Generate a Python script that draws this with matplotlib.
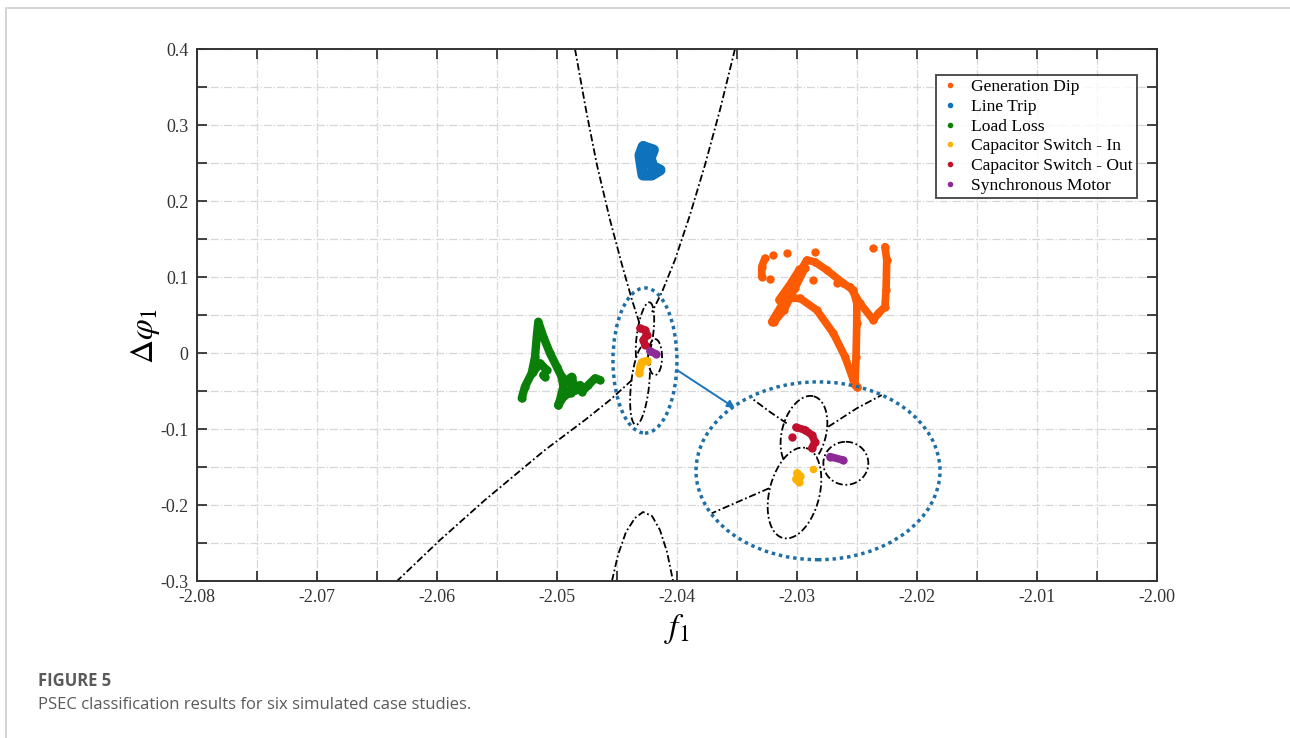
import numpy as np
import matplotlib
matplotlib.use("Agg")
import matplotlib.pyplot as plt
from matplotlib.lines import Line2D
from matplotlib.patches import Ellipse

plt.rcParams['mathtext.fontset'] = 'stix'

# ---------------- data ----------------
labels = ["Generation Dip", "Line Trip", "Load Loss",
          "Capacitor Switch - In", "Capacitor Switch - Out", "Synchronous Motor"]
colors = ["#fc5a03", "#0f72bd", "#0a800a", "#fdb100", "#c0102e", "#8e2a96"]

# Generation Dip trajectories
gen_a_x = [-2.03211, -2.03142, -2.03058, -2.02975, -2.02919, -2.02850, -2.02752, -2.02614,
           -2.02531, -2.02502, -2.02502, -2.02508, -2.02517, -2.02502]
gen_a_y = [0.0412, 0.0592, 0.0829, 0.1066, 0.1224, 0.1197, 0.1092, 0.0917,
           0.0829, 0.0654, 0.0391, -0.0049, -0.0421, -0.0443]
gen_a2_x = [-2.03192, -2.03108, -2.03017, -2.02933]
gen_a2_y = [0.0408, 0.0566, 0.0855, 0.1118]
gen_a3_x = [-2.03150, -2.03060, -2.02980]
gen_a3_y = [0.0700, 0.0900, 0.1100]
gen_b_x = [-2.03086, -2.02975, -2.02836, -2.02697, -2.02600, -2.02531, -2.02502]
gen_b_y = [0.0720, 0.0720, 0.0566, 0.0259, -0.0049, -0.0355, -0.0443]
gen_c_x = [-2.02558, -2.02475, -2.02364, -2.02322, -2.02267, -2.02258, -2.02252, -2.02267]
gen_c_y = [0.0872, 0.0654, 0.0434, 0.0522, 0.0609, 0.0829, 0.1224, 0.1399]
gen_arc_x = [-2.03294, -2.03294, -2.03267]
gen_arc_y = [0.1004, 0.1136, 0.1246]
gen_dots_x = [-2.03197, -2.03086, -2.02850, -2.03225, -2.02864, -2.02669, -2.02364]
gen_dots_y = [0.1289, 0.1312, 0.1333, 0.0970, 0.0961, 0.0917, 0.1378]

# Line Trip
trip_x = [-2.04281, -2.04197, -2.04225, -2.04200, -2.04142, -2.04211, -2.04283, -2.04294, -2.04308, -2.04281]
trip_y = [0.2714, 0.2671, 0.2566, 0.2451, 0.2408, 0.2342, 0.2342, 0.2451, 0.2605, 0.2714]

# Load Loss
load_x = [-2.05294, -2.05267, -2.05211, -2.05183, -2.05169, -2.05156, -2.05114, -2.05058,
          -2.05002, -2.04961, -2.04947, -2.04975, -2.04989]
load_y = [-0.0596, -0.0443, -0.0267, -0.0049, 0.0214, 0.0412, 0.0214, -0.0004,
          -0.0180, -0.0312, -0.0443, -0.0618, -0.0684]
load_sq_x = [-2.04961, -2.04933, -2.04877, -2.04864, -2.04892, -2.04850, -2.04808, -2.04794,
             -2.04739, -2.04683, -2.04642]
load_sq_y = [-0.0312, -0.0378, -0.0312, -0.0399, -0.0509, -0.0487, -0.0421, -0.0509,
             -0.0421, -0.0333, -0.0355]
load_bar_x = [-2.05197, -2.05142, -2.05086]
load_bar_y = [-0.0246, -0.0136, -0.0224]
load_dot_x = [-2.05114, -2.05100]
load_dot_y = [-0.0289, -0.0316]
load_loop_x = [-2.04989, -2.04940, -2.04880, -2.04850]
load_loop_y = [-0.0684, -0.0560, -0.0520, -0.0487]

# Capacitor Switch - In
capin_x = [-2.04252, -2.04294, -2.04308, -2.04314]
capin_y = [-0.0101, -0.0118, -0.0180, -0.0267]
capin_zoom_x = [-2.03000, -2.02975, -2.03008, -2.02983]
capin_zoom_y = [-0.1579, -0.1618, -0.1658, -0.1697]
capin_zoom_dot_x = [-2.02864]
capin_zoom_dot_y = [-0.1530]

# Capacitor Switch - Out
capout_x = [-2.04308, -2.04267, -2.04252, -2.04281, -2.04267]
capout_y = [0.0325, 0.0303, 0.0237, 0.0171, 0.0105]
capout_zoom_x = [-2.03008, -2.02933, -2.02877, -2.02850, -2.02877]
capout_zoom_y = [-0.0978, -0.1013, -0.1079, -0.1167, -0.1254]
capout_zoom_dot_x = [-2.03044]
capout_zoom_dot_y = [-0.1101]

# Synchronous Motor
motor_x = [-2.04225, -2.04175]
motor_y = [0.0026, -0.0013]
motor_zoom_x = [-2.02725, -2.02619]
motor_zoom_y = [-0.1364, -0.1408]

# Decision boundary curves
bndA_x = [-2.04850, -2.04758, -2.04667, -2.04558, -2.04458, -2.04375, -2.04308]
bndA_y = [0.4000, 0.3197, 0.2474, 0.1750, 0.1158, 0.0697, 0.0368]
bndB_x = [-2.03517, -2.03642, -2.03767, -2.03892, -2.04017, -2.04125, -2.04208]
bndB_y = [0.4000, 0.3197, 0.2474, 0.1816, 0.1224, 0.0803, 0.0539]
bndC_x = [-2.04375, -2.04558, -2.04767, -2.05100, -2.05600, -2.05975, -2.06333]
bndC_y = [-0.0355, -0.0618, -0.0882, -0.1276, -0.1934, -0.2461, -0.3000]
bndD_x = [-2.04542, -2.04492, -2.04425, -2.04350, -2.04283, -2.04208, -2.04142, -2.04083, -2.04033]
bndD_y = [-0.3000, -0.2658, -0.2355, -0.2171, -0.2092, -0.2145, -0.2329, -0.2618, -0.3000]
# inset boundary lines
zl1_x = [-2.03086, -2.03225, -2.03378]
zl1_y = [-0.0925, -0.0776, -0.0596]
zl2_x = [-2.02739, -2.02502, -2.02294]
zl2_y = [-0.0970, -0.0728, -0.0553]
zl3_x = [-2.03233, -2.03711]
zl3_y = [-0.1780, -0.2109]

# class-region ellipses: centre, semi-axis vector u, semi-axis vector v (data units)
small_top = ((-2.04267, 0.0237), (0.000383, 0.0430), (0.000667, -0.00145))
small_low = ((-2.04308, -0.0421), (0.000350, 0.0524), (0.000750, -0.00124))
small_rgt = ((-2.04183, -0.0053), (0.0, 0.0237), (0.000583, 0.0))
zoom_top = ((-2.02942, -0.1053), (0.000819, 0.0483), (0.00177, -0.00749))
zoom_low = ((-2.03021, -0.1842), (0.000955, 0.0592), (0.00202, -0.00812))
zoom_rgt = ((-2.02593, -0.1451), (0.0, 0.0283), (0.001875, 0.0))

# highlight ellipses (centre, width, height)
hl_small = ((-2.04267, -0.0099), 0.00533, 0.191)
hl_big = ((-2.02825, -0.1550), 0.02033, 0.234)
arrow_from = (-2.04000, -0.0224)
arrow_to = (-2.03517, -0.0724)

xticks = np.round(np.arange(-2.08, -1.9999, 0.005), 3)
yticks = np.round(np.arange(-0.30, 0.4001, 0.05), 2)


def fmt_x(v):
    return ("%.2f" % v) if abs(round(v * 100) - v * 100) < 1e-6 else ""


def fmt_y(v):
    v = round(v, 2) + 0.0
    if abs(round(v * 10) - v * 10) > 1e-6:
        return ""
    return "0" if abs(v) < 1e-9 else "%g" % v


# ---------------- figure ----------------
fig = plt.figure(figsize=(12.9, 7.38), dpi=100)
ax = fig.add_axes([197/1290, 1-581/738, 960/1290, 532/738])

ax.set_xlim(-2.08, -2.00)
ax.set_ylim(-0.3, 0.4)
ax.set_xticks(xticks)
ax.set_yticks(yticks)
ax.set_xticklabels([fmt_x(v) for v in xticks])
ax.set_yticklabels([fmt_y(v) for v in yticks])
ax.tick_params(direction='in', top=True, right=True, length=7, width=1.3,
               labelsize=13, colors='#333333', pad=6)
for lab in ax.get_xticklabels() + ax.get_yticklabels():
    lab.set_family('Liberation Serif')
for s in ax.spines.values():
    s.set_linewidth(1.4)
    s.set_color('#333333')
ax.grid(True, color='#d6d6d6', linestyle='-.', linewidth=0.9)
ax.set_axisbelow(True)

bstyle = dict(color='black', lw=1.3, dashes=(4, 1.5, 1, 1.5), zorder=2)
for bx, by in [(bndA_x, bndA_y), (bndB_x, bndB_y), (bndC_x, bndC_y), (bndD_x, bndD_y),
               (zl1_x, zl1_y), (zl2_x, zl2_y), (zl3_x, zl3_y)]:
    ax.plot(bx, by, **bstyle)


def ell_pts(spec, n=240):
    c, u, v = spec
    t = np.linspace(0, 2*np.pi, n)
    return (c[0] + u[0]*np.cos(t) + v[0]*np.sin(t),
            c[1] + u[1]*np.cos(t) + v[1]*np.sin(t))


def inside(x, y, spec):
    c, u, v = spec
    M = np.array([[u[0], v[0]], [u[1], v[1]]])
    ab = np.linalg.solve(M, np.vstack([x - c[0], y - c[1]]))
    return (ab**2).sum(0) < 1


for top, low, rgt in [(small_top, small_low, small_rgt), (zoom_top, zoom_low, zoom_rgt)]:
    x, y = ell_pts(top)
    m = inside(x, y, low)
    x = np.where(m, np.nan, x)
    ax.plot(x, y, **bstyle)
    for spec in (low, rgt):
        x, y = ell_pts(spec)
        ax.plot(x, y, **bstyle)

tstyle = dict(lw=5.5, solid_capstyle='round', solid_joinstyle='round',
              marker='o', ms=6, mew=0, zorder=4)
c_gen, c_trip, c_load, c_in, c_out, c_mot = colors
for xs, ys in [(gen_a_x, gen_a_y), (gen_a2_x, gen_a2_y), (gen_a3_x, gen_a3_y),
               (gen_b_x, gen_b_y), (gen_c_x, gen_c_y), (gen_arc_x, gen_arc_y)]:
    ax.plot(xs, ys, color=c_gen, **tstyle)
ax.plot(gen_dots_x, gen_dots_y, ls='', marker='o', ms=6, mew=0, color=c_gen, zorder=4)
ax.plot(trip_x, trip_y, color=c_trip, **dict(tstyle, lw=8))
for xs, ys in [(load_x, load_y), (load_sq_x, load_sq_y), (load_bar_x, load_bar_y),
               (load_dot_x, load_dot_y), (load_loop_x, load_loop_y)]:
    ax.plot(xs, ys, color=c_load, **dict(tstyle, lw=6))
for xs, ys in [(capin_x, capin_y), (capin_zoom_x, capin_zoom_y)]:
    ax.plot(xs, ys, color=c_in, **tstyle)
ax.plot(capin_zoom_dot_x, capin_zoom_dot_y, ls='', marker='o', ms=5.5, mew=0, color=c_in, zorder=4)
for xs, ys in [(capout_x, capout_y), (capout_zoom_x, capout_zoom_y)]:
    ax.plot(xs, ys, color=c_out, **tstyle)
ax.plot(capout_zoom_dot_x, capout_zoom_dot_y, ls='', marker='o', ms=6, mew=0, color=c_out, zorder=4)
for xs, ys in [(motor_x, motor_y), (motor_zoom_x, motor_zoom_y)]:
    ax.plot(xs, ys, color=c_mot, **tstyle)

hl_color = '#1f6fa5'
for (c, w, h) in (hl_small, hl_big):
    ax.add_patch(Ellipse(c, w, h, fill=False, edgecolor=hl_color, lw=2.5,
                         linestyle=(0, (1, 1.1)), zorder=5))
ax.annotate('', xy=arrow_to, xytext=arrow_from,
            arrowprops=dict(arrowstyle='-|>', color='#1b75bb', lw=1.4,
                            mutation_scale=11, shrinkA=0, shrinkB=0), zorder=5)

ax.set_xlabel(r'$f_1$', fontsize=24, labelpad=4)
ax.set_ylabel(r'$\Delta\varphi_1$', fontsize=24)
ax.yaxis.set_label_coords(-0.036, 0.46)

handles = [Line2D([], [], ls='', marker='o', ms=4, mew=0, color=c, label=l)
           for c, l in zip(colors, labels)]
leg = ax.legend(handles=handles, loc='upper right', bbox_to_anchor=(0.979, 0.951),
                borderaxespad=0, fancybox=False, frameon=True, edgecolor='#222222',
                prop={'family': 'Liberation Serif', 'size': 12.6}, handlelength=1.2,
                handletextpad=0.6, labelspacing=0.2, borderpad=0.22)
leg.get_frame().set_linewidth(1.4)

# card border and caption
fig.add_artist(Line2D([8/1290, 1], [1-8/738, 1-8/738], color='#cccccc', lw=1.2))
fig.add_artist(Line2D([6/1290, 6/1290], [0, 1-8/738], color='#cccccc', lw=1.2))
fig.text(38/1290, 1-681/738, 'FIGURE 5', fontsize=12, fontweight='bold',
         family='Open Sans', color='#5a5a5a', va='center')
fig.text(38/1290, 1-705/738, 'PSEC classification results for six simulated case studies.',
         fontsize=12, family='Open Sans', color='#5a5a5a', va='center')

fig.savefig('out.png', dpi=100)
